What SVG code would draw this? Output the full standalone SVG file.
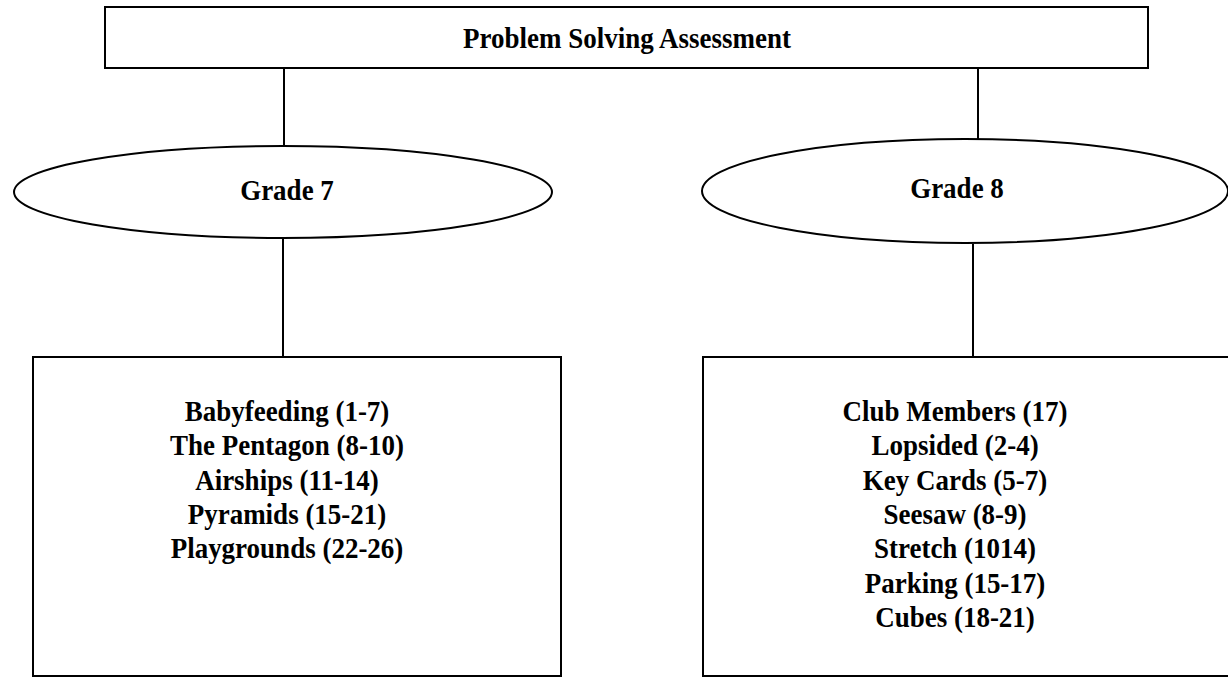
<svg xmlns="http://www.w3.org/2000/svg" width="1228" height="677" viewBox="0 0 1228 677">
<style>
.shape{fill:#fff;stroke:#000;stroke-width:2}
.conn line{stroke:#000;stroke-width:2}
text{font-family:"Liberation Serif","Times New Roman",serif;font-weight:bold;font-size:27px;fill:#000;text-anchor:middle}
</style>
<rect width="1228" height="677" fill="#fff"/>
<g id="connectors" class="conn">
<line x1="284" y1="68" x2="284" y2="146"/>
<line x1="978" y1="68" x2="978" y2="140"/>
<line x1="283" y1="238" x2="283" y2="357"/>
<line x1="973" y1="244" x2="973" y2="357"/>
</g>
<g id="root">
<rect class="shape" x="105" y="7" width="1043" height="61"/>
<text transform="translate(627,48) scale(1,1.11)">Problem Solving Assessment</text>
</g>
<g id="grade7">
<ellipse class="shape" cx="283" cy="192" rx="269" ry="46"/>
<text transform="translate(287,200) scale(1,1.11)">Grade 7</text>
</g>
<g id="grade8">
<ellipse class="shape" cx="965" cy="191" rx="263" ry="52"/>
<text transform="translate(957,198) scale(1,1.11)">Grade 8</text>
</g>
<g id="list7">
<rect class="shape" x="33" y="357" width="528" height="319"/>
<text transform="translate(287,421) scale(1,1.11)">Babyfeeding (1-7)</text>
<text transform="translate(287,455.3) scale(1,1.11)">The Pentagon (8-10)</text>
<text transform="translate(287,489.7) scale(1,1.11)">Airships (11-14)</text>
<text transform="translate(287,524) scale(1,1.11)">Pyramids (15-21)</text>
<text transform="translate(287,558.3) scale(1,1.11)">Playgrounds (22-26)</text>
</g>
<g id="list8">
<rect class="shape" x="703" y="357" width="530" height="319"/>
<text transform="translate(955,421) scale(1,1.11)">Club Members (17)</text>
<text transform="translate(955,455.3) scale(1,1.11)">Lopsided (2-4)</text>
<text transform="translate(955,489.7) scale(1,1.11)">Key Cards (5-7)</text>
<text transform="translate(955,524) scale(1,1.11)">Seesaw (8-9)</text>
<text transform="translate(955,558.3) scale(1,1.11)">Stretch (1014)</text>
<text transform="translate(955,592.7) scale(1,1.11)">Parking (15-17)</text>
<text transform="translate(955,627) scale(1,1.11)">Cubes (18-21)</text>
</g>
</svg>
